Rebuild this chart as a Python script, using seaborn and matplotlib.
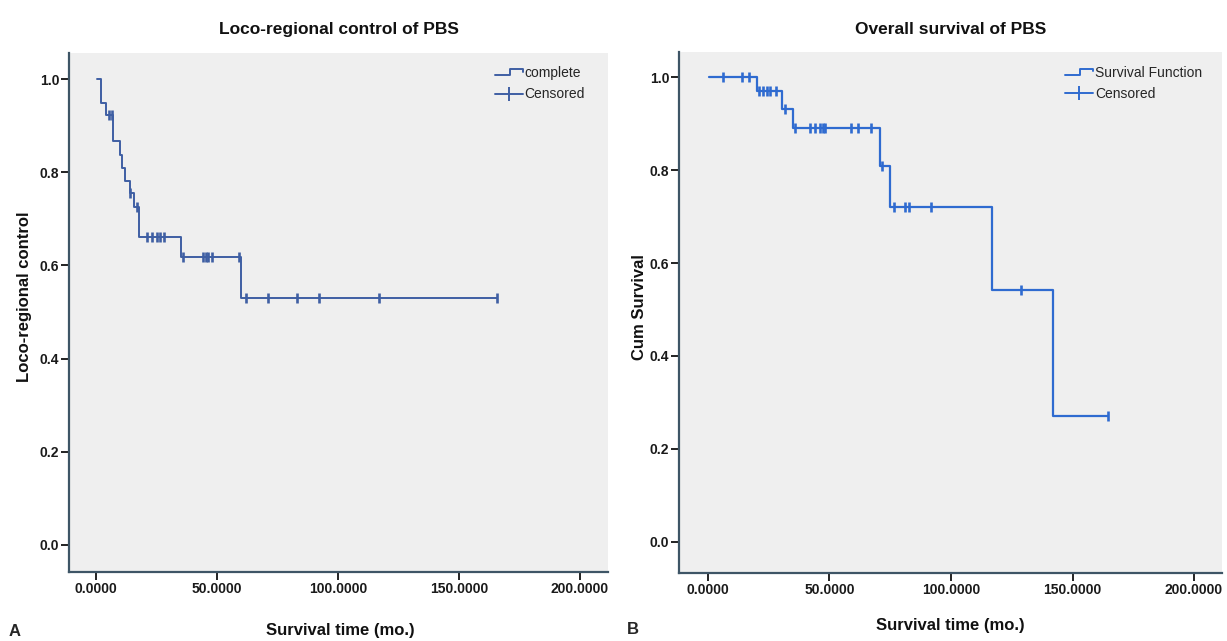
import numpy as np
import matplotlib
matplotlib.use("Agg")
import matplotlib.pyplot as plt
import seaborn as sns
from matplotlib.legend_handler import HandlerBase
from matplotlib.lines import Line2D

# ---------------- data ----------------
# Panel A: loco-regional control
lrc_step_times = [0.5, 1.9, 4.1, 6.9, 9.9, 10.7, 12.0, 13.9, 15.7, 17.9, 35.0, 60.0, 165.6]
lrc_step_surv = [1.0, 0.949, 0.923, 0.868, 0.838, 0.810, 0.782, 0.755, 0.726, 0.662, 0.619, 0.531, 0.531]
lrc_censor_times = [5.5, 6.6, 14.1, 17.1, 21.2, 23.0, 25.1, 26.4, 28.1, 36.1, 44.1, 45.3,
                    46.4, 47.8, 59.1, 62.0, 71.2, 83.2, 92.2, 117.1, 165.6]

# Panel B: overall survival
os_step_times = [0.4, 20.0, 30.6, 35.0, 71.0, 74.9, 116.7, 141.8, 164.8]
os_step_surv = [1.0, 0.970, 0.931, 0.890, 0.809, 0.720, 0.541, 0.270, 0.270]
os_censor_times = [6.0, 14.0, 17.0, 21.0, 22.7, 24.3, 25.4, 27.9, 31.7, 35.8, 42.1, 43.9,
                   46.2, 47.3, 48.0, 59.0, 61.8, 67.0, 71.5, 76.6, 80.9, 82.8, 91.8, 128.6, 164.8]

x_ticks = [0, 50, 100, 150, 200]
y_ticks = [0.0, 0.2, 0.4, 0.6, 0.8, 1.0]

titles = ["Loco-regional control of PBS", "Overall survival of PBS"]
ylabels = ["Loco-regional control", "Cum Survival"]
xlabel = "Survival time (mo.)"
legend_labels = [["complete", "Censored"], ["Survival Function", "Censored"]]
panel_letters = ["A", "B"]

# ---------------- style ----------------
sns.set_style("white")
plt.rcParams["font.family"] = ["Liberation Sans", "DejaVu Sans"]

W, H = 1227, 641
fig = plt.figure(figsize=(W / 100, H / 100), dpi=100)
fig.patch.set_facecolor("white")

PLOT_BG = "#EFEFEF"
SPINE = "#3E5566"


class StepHandler(HandlerBase):
    def create_artists(self, legend, orig_handle, xdescent, ydescent, width, height, fontsize, trans):
        x0 = -xdescent
        y0 = -ydescent
        xs = [x0, x0 + 0.55 * width, x0 + 0.55 * width, x0 + width, x0 + width]
        ys = [y0 + 0.25 * height, y0 + 0.25 * height, y0 + 0.85 * height, y0 + 0.85 * height, y0 + 0.6 * height]
        ln = Line2D(xs, ys, color=orig_handle.get_color(), lw=orig_handle.get_linewidth(),
                    transform=trans)
        return [ln]


def censor_levels(step_t, step_s, cens_t):
    idx = np.searchsorted(np.asarray(step_t), np.asarray(cens_t), side="right") - 1
    return np.asarray(step_s)[idx]


def panel(rect, step_t, step_s, cens_t, color, lw, xlim, ylim, title, title_y, ylab, ylab_pos,
          xlab_pos, labels, leg_anchor):
    ax = fig.add_axes(rect)
    ax.set_facecolor(PLOT_BG)
    sns.lineplot(x=step_t, y=step_s, drawstyle="steps-post", estimator=None, color=color,
                 lw=lw, ax=ax, legend=False)
    cy = censor_levels(step_t, step_s, cens_t)
    sns.scatterplot(x=cens_t, y=cy, marker="|", s=55, linewidth=1.9, color=color, ax=ax,
                    legend=False, zorder=3)
    ax.set_xlim(*xlim)
    ax.set_ylim(*ylim)
    ax.set_xticks(x_ticks)
    ax.set_xticklabels([f"{v:.4f}" for v in x_ticks])
    ax.set_yticks(y_ticks)
    ax.set_yticklabels([f"{v:.1f}" for v in y_ticks])
    ax.tick_params(axis="both", which="major", bottom=True, left=True, direction="out",
                   length=5.5, width=1.4, color="#222222", labelsize=10, labelcolor="#1a1a1a")
    ax.tick_params(axis="x", pad=2)
    ax.tick_params(axis="y", pad=1.5)
    for lab in ax.get_xticklabels() + ax.get_yticklabels():
        lab.set_fontweight("bold")
    for s in ["top", "right"]:
        ax.spines[s].set_visible(False)
    for s in ["left", "bottom"]:
        ax.spines[s].set_color(SPINE)
        ax.spines[s].set_linewidth(1.6)
    ax.set_title(title, fontsize=12.5, fontweight="bold", y=title_y, va="center", color="#111111")
    ax.set_ylabel(ylab, fontsize=12, fontweight="bold", va="center", color="#111111")
    ax.yaxis.set_label_coords(*ylab_pos)
    ax.set_xlabel(xlabel, fontsize=12, fontweight="bold", va="center", color="#111111")
    ax.xaxis.set_label_coords(*xlab_pos)

    step_handle = Line2D([0], [0], color=color, lw=1.4)
    cens_handle = Line2D([0], [0], color=color, lw=1.4, marker="|", markersize=10, mew=1.4)
    ax.legend([step_handle, cens_handle], labels, loc="upper left", bbox_to_anchor=leg_anchor,
              frameon=False, fontsize=10, handlelength=2.0, handletextpad=0.15,
              labelspacing=0.5, borderpad=0, borderaxespad=0,
              handler_map={step_handle: StepHandler()})
    return ax


# Panel A
axA = panel([69 / W, 1 - 572 / H, (608 - 69) / W, (572 - 53) / H],
            lrc_step_times, lrc_step_surv, lrc_censor_times, "#3F5FA3", 1.4,
            (-11.2, 211.6), (-0.058, 1.056), titles[0], 1.029,
            ylabels[0], (-0.082, 0.53), (0.503, -0.112), legend_labels[0], (0.79, 0.974))

# Panel B
axB = panel([679 / W, 1 - 573 / H, (1222 - 679) / W, (573 - 52) / H],
            os_step_times, os_step_surv, os_censor_times, "#2F6BD0", 1.6,
            (-11.9, 211.5), (-0.067, 1.054), titles[1], 1.027,
            ylabels[1], (-0.072, 0.51), (0.499, -0.10), legend_labels[1], (0.711, 0.973))

fig.text(15 / W, 1 - 632 / H, panel_letters[0], fontsize=12, fontweight="bold", ha="center", va="center")
fig.text(633 / W, 1 - 630 / H, panel_letters[1], fontsize=12, fontweight="bold", ha="center", va="center")

fig.savefig("out.png", dpi=100, facecolor="white")
